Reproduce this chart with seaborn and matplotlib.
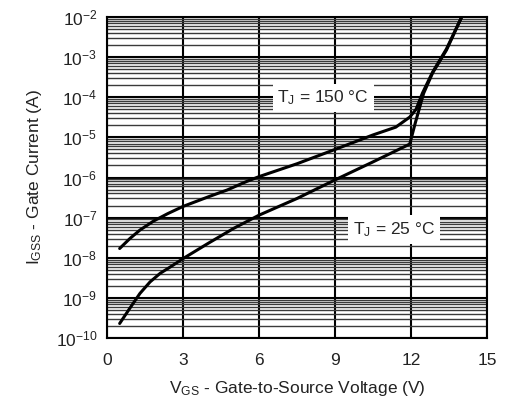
import numpy as np
import pandas as pd
import matplotlib
matplotlib.use("Agg")
import matplotlib.pyplot as plt
from matplotlib.ticker import LogLocator, NullFormatter, FixedLocator
import seaborn as sns

# Data
v_25 = [0.5, 0.9, 1.3, 1.7, 2.1, 2.5, 3.0, 4.0, 5.0, 6.0, 7.5, 9.0, 10.5, 11.95, 12.17, 12.5,
        12.85, 13.4, 14.0]
i_25 = [2.3e-10, 5.5e-10, 1.29e-9, 2.5e-9, 4.1e-9, 5.9e-9, 9.5e-9, 2.3e-8, 5.4e-8, 1.15e-7,
        3.0e-7, 8.7e-7, 2.45e-6, 6.8e-6, 2.3e-5, 1.26e-4, 4.0e-4, 1.5e-3, 1.0e-2]
v_150 = [0.5, 0.9, 1.3, 1.85, 2.4, 3.0, 4.0, 4.75, 5.5, 6.0, 7.5, 9.0, 10.5, 11.4, 11.95,
         12.2, 12.45, 12.85, 13.4, 14.0]
i_150 = [1.7e-8, 3.0e-8, 4.9e-8, 8.3e-8, 1.26e-7, 1.9e-7, 3.3e-7, 4.9e-7, 7.9e-7, 1.05e-6,
         2.2e-6, 5.0e-6, 1.15e-5, 1.8e-5, 3.2e-5, 5.0e-5, 1.26e-4, 4.2e-4, 1.6e-3, 1.0e-2]
x_ticks = [0, 3, 6, 9, 12, 15]
y_ticks = [1e-10, 1e-9, 1e-8, 1e-7, 1e-6, 1e-5, 1e-4, 1e-3, 1e-2]
y_tick_labels = [r"$10^{-10}$", r"$10^{-9}$", r"$10^{-8}$", r"$10^{-7}$", r"$10^{-6}$",
                 r"$10^{-5}$", r"$10^{-4}$", r"$10^{-3}$", r"$10^{-2}$"]
labels = ["T$_J$ = 25 °C", "T$_J$ = 150 °C"]

df = pd.concat([
    pd.DataFrame({"V": v_25, "I": i_25, "T": "25"}),
    pd.DataFrame({"V": v_150, "I": i_150, "T": "150"}),
])

sns.set_style("white")
plt.rcParams["font.family"] = ["Liberation Sans", "DejaVu Sans"]
plt.rcParams["mathtext.default"] = "regular"

fig = plt.figure(figsize=(5.05, 4.04), dpi=100)
ax = fig.add_axes([107 / 505, 1 - 338 / 404, 380 / 505, 321 / 404])

sns.lineplot(data=df, x="V", y="I", hue="T", palette={"25": "black", "150": "black"},
             linewidth=2.2, legend=False, ax=ax, sort=False, estimator=None, zorder=5)

ax.set_yscale("log")
ax.set_xlim(0, 15)
ax.set_ylim(1e-10, 1e-2)
ax.xaxis.set_major_locator(FixedLocator(x_ticks))
ax.set_yticks(y_ticks)
ax.set_yticklabels(y_tick_labels)
ax.yaxis.set_minor_locator(LogLocator(base=10, subs=np.arange(2, 10), numticks=100))
ax.yaxis.set_minor_formatter(NullFormatter())

ax.grid(which="major", axis="both", color="black", linewidth=1.5)
ax.grid(which="minor", axis="y", color="#3a3a3a", linewidth=1.0)
ax.set_axisbelow(True)
for s in ax.spines.values():
    s.set_color("black")
    s.set_linewidth(1.5)

ax.tick_params(axis="both", which="both", length=0, labelsize=12.5, colors="#222222")
ax.tick_params(axis="x", pad=11)
ax.tick_params(axis="y", pad=7)

ax.set_xlabel("V$_{GS}$ - Gate-to-Source Voltage (V)", fontsize=12.5, color="#222222", labelpad=8)
ax.set_ylabel("I$_{GSS}$ - Gate Current (A)", fontsize=12.5, color="#222222", labelpad=8)

ax.text(8.54, 9.5e-5, labels[1], ha="center", va="center", fontsize=12.5, zorder=6,
        bbox=dict(facecolor="white", edgecolor="none", pad=3.5))
ax.text(11.34, 5.1e-8, labels[0], ha="center", va="center", fontsize=12.5, zorder=6,
        bbox=dict(facecolor="white", edgecolor="none", pad=3.5))

fig.savefig("out.png", dpi=100)
